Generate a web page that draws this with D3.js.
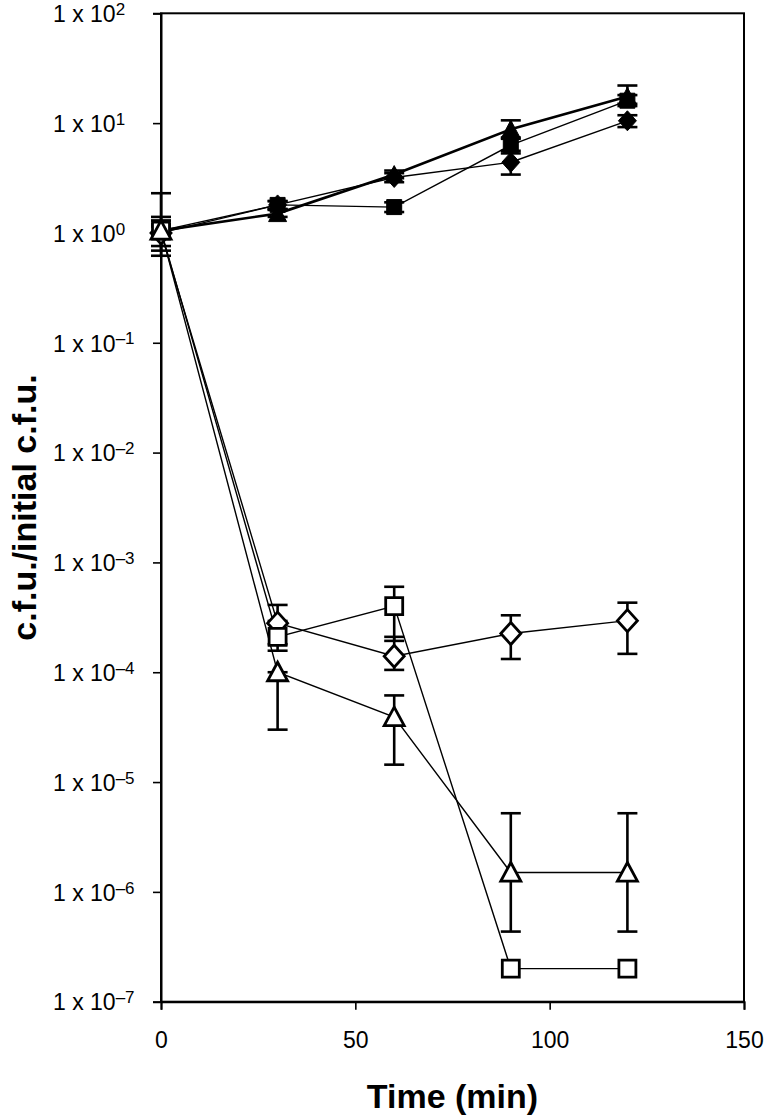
<!DOCTYPE html>
<html><head><meta charset="utf-8">
<script src="https://cdn.jsdelivr.net/npm/d3@7"></script>
<style>
html,body{margin:0;padding:0;background:#fff;}
svg{display:block;font-family:"Liberation Sans",Arial,sans-serif;}
</style>
</head><body>
<svg id="chart" width="768" height="1119"></svg>
<script>
// ---- data ----
const times = [0, 30, 60, 90, 120];
const xTicks = [0, 50, 100, 150];
const yExponents = [2, 1, 0, -1, -2, -3, -4, -5, -6, -7];

// filled (closed) markers
const fDiamondVals = [1.0, 1.8, 3.2, 4.4, 10.5];
const fDiamondLo   = [0.9, 1.65, 2.9, 3.4, 9.2];
const fDiamondHi   = [1.15, 1.95, 3.5, 5.6, 11.8];

const fSquareVals = [1.05, 1.8, 1.72, 6.3, 16];
const fSquareLo   = [0.95, 1.65, 1.55, 5.3, 14.3];
const fSquareHi   = [1.2, 1.95, 1.9, 7.4, 18];

const fTriangleVals = [1.05, 1.5, 3.4, 8.8, 17.5];
const fTriangleLo   = [0.98, 1.4, 3.15, 7.2, 15];
const fTriangleHi   = [1.15, 1.62, 3.7, 10.6, 22];

// open markers
const oDiamondVals = [1.0, 2.8e-4, 1.4e-4, 2.25e-4, 2.95e-4];
const oDiamondLo   = [0.62, 1.8e-4, 1.05e-4, 1.32e-4, 1.47e-4];
const oDiamondHi   = [2.3, 4.1e-4, 2.1e-4, 3.3e-4, 4.3e-4];

const oSquareVals = [1.05, 2.1e-4, 4.0e-4, 2e-7, 2e-7];
const oSquareLo   = [0.69, 1.57e-4, 1.93e-4, null, null];
const oSquareHi   = [1.4, 2.93e-4, 6.0e-4, null, null];

const oTriangleVals = [1.05, 1.0e-4, 3.9e-5, 1.5e-6, 1.5e-6];
const oTriangleLo   = [0.76, 3.0e-5, 1.44e-5, 4.35e-7, 4.35e-7];
const oTriangleHi   = [1.3, 1.0e-4, 6.15e-5, 5.2e-6, 5.2e-6];

const series = [
  {name:"fDiamond", shape:"diamond", filled:true, vals:fDiamondVals, lo:fDiamondLo, hi:fDiamondHi, lw:1.4},
  {name:"fSquare", shape:"square", filled:true, vals:fSquareVals, lo:fSquareLo, hi:fSquareHi, lw:1.4},
  {name:"fTriangle", shape:"triangle", filled:true, vals:fTriangleVals, lo:fTriangleLo, hi:fTriangleHi, lw:2.6},
  {name:"oDiamond", shape:"diamond", filled:false, vals:oDiamondVals, lo:oDiamondLo, hi:oDiamondHi, lw:1.4},
  {name:"oSquare", shape:"square", filled:false, vals:oSquareVals, lo:oSquareLo, hi:oSquareHi, lw:1.4},
  {name:"oTriangle", shape:"triangle", filled:false, vals:oTriangleVals, lo:oTriangleLo, hi:oTriangleHi, lw:1.4}
];

// ---- layout ----
const plot = {left:161, right:744, top:13.3, bottom:1001.7};
const svg = d3.select("#chart");
const x = d3.scaleLinear().domain([0,150]).range([plot.left, plot.right]);
const y = d3.scaleLog().domain([1e-7,1e2]).range([plot.bottom, plot.top]);

// frame
svg.append("rect")
  .attr("x", plot.left).attr("y", plot.top)
  .attr("width", plot.right-plot.left).attr("height", plot.bottom-plot.top)
  .attr("fill","none").attr("stroke","#000").attr("stroke-width",2);

// y axis
const yAxis = svg.append("g").attr("transform",`translate(${plot.left},0)`)
  .call(d3.axisLeft(y).tickValues(yExponents.map(e=>Math.pow(10,e))).tickSize(8).tickFormat(""));
yAxis.select(".domain").attr("stroke-width",2);
yAxis.selectAll(".tick line").attr("stroke-width",1.6);
yAxis.selectAll(".tick").each(function(d){
  const e = Math.round(Math.log10(d));
  const t = d3.select(this).append("text")
    .attr("x", 53 - plot.left).attr("dy","0.36em")
    .attr("text-anchor","start").attr("fill","#000")
    .style("font-size","23px");
  t.append("tspan").text("1 x 10");
  t.append("tspan").attr("dy","-0.42em").style("font-size","17px")
    .text(e < 0 ? "\u2013" + Math.abs(e) : String(e));
});

// x axis
const xAxis = svg.append("g").attr("transform",`translate(0,${plot.bottom})`)
  .call(d3.axisBottom(x).tickValues(xTicks).tickSize(8).tickFormat(d3.format("d")));
xAxis.select(".domain").attr("stroke-width",2);
xAxis.selectAll(".tick line").attr("stroke-width",1.6);
xAxis.selectAll(".tick text").attr("fill","#000").attr("y",30).style("font-size","23px");

// axis titles
svg.append("text").attr("x",(plot.left+plot.right)/2).attr("y",1108)
  .attr("text-anchor","middle").style("font-size","34px").style("font-weight","bold")
  .text("Time (min)");
svg.append("text").attr("transform",`translate(36,${(plot.top+plot.bottom)/2}) rotate(-90)`)
  .attr("text-anchor","middle").style("font-size","34px").style("font-weight","bold")
  .text("c.f.u./initial c.f.u.");

// lines
const line = d3.line().x((d,i)=>x(times[i])).y(d=>y(d));
series.forEach(s=>{
  svg.append("path").attr("d", line(s.vals)).attr("fill","none")
    .attr("stroke","#000").attr("stroke-width", s.lw);
});

// error bars
const capW = 10;
series.forEach(s=>{
  const g = svg.append("g").attr("stroke","#000").attr("stroke-width",2.6);
  times.forEach((t,i)=>{
    const cx = x(t), cy = y(s.vals[i]);
    if (s.hi[i] != null) {
      const yy = y(s.hi[i]);
      g.append("line").attr("x1",cx).attr("x2",cx).attr("y1",cy).attr("y2",yy);
      g.append("line").attr("x1",cx-capW).attr("x2",cx+capW).attr("y1",yy).attr("y2",yy);
    }
    if (s.lo[i] != null) {
      const yy = y(s.lo[i]);
      g.append("line").attr("x1",cx).attr("x2",cx).attr("y1",cy).attr("y2",yy);
      g.append("line").attr("x1",cx-capW).attr("x2",cx+capW).attr("y1",yy).attr("y2",yy);
    }
  });
});

// markers
function shapePath(shape, filled){
  if (shape==="diamond") { const hw = filled?9:10, hh = filled?10:11; return `M0,${-hh}L${hw},0L0,${hh}L${-hw},0Z`; }
  if (shape==="square") { const h = filled?7.5:8.5; return `M${-h},${-h}H${h}V${h}H${-h}Z`; }
  const hw = filled?9:10, top = filled?-9:-10, bot = filled?8:8.5;
  return `M0,${top}L${hw},${bot}L${-hw},${bot}Z`;
}
series.forEach(s=>{
  svg.append("g").selectAll("path").data(s.vals).join("path")
    .attr("transform",(d,i)=>`translate(${x(times[i])},${y(d)})`)
    .attr("d", shapePath(s.shape, s.filled))
    .attr("fill", s.filled ? "#000" : "#fff")
    .attr("stroke","#000")
    .attr("stroke-width", s.filled ? 1 : 2.8)
    .attr("stroke-linejoin","miter");
});
</script>
</body></html>
